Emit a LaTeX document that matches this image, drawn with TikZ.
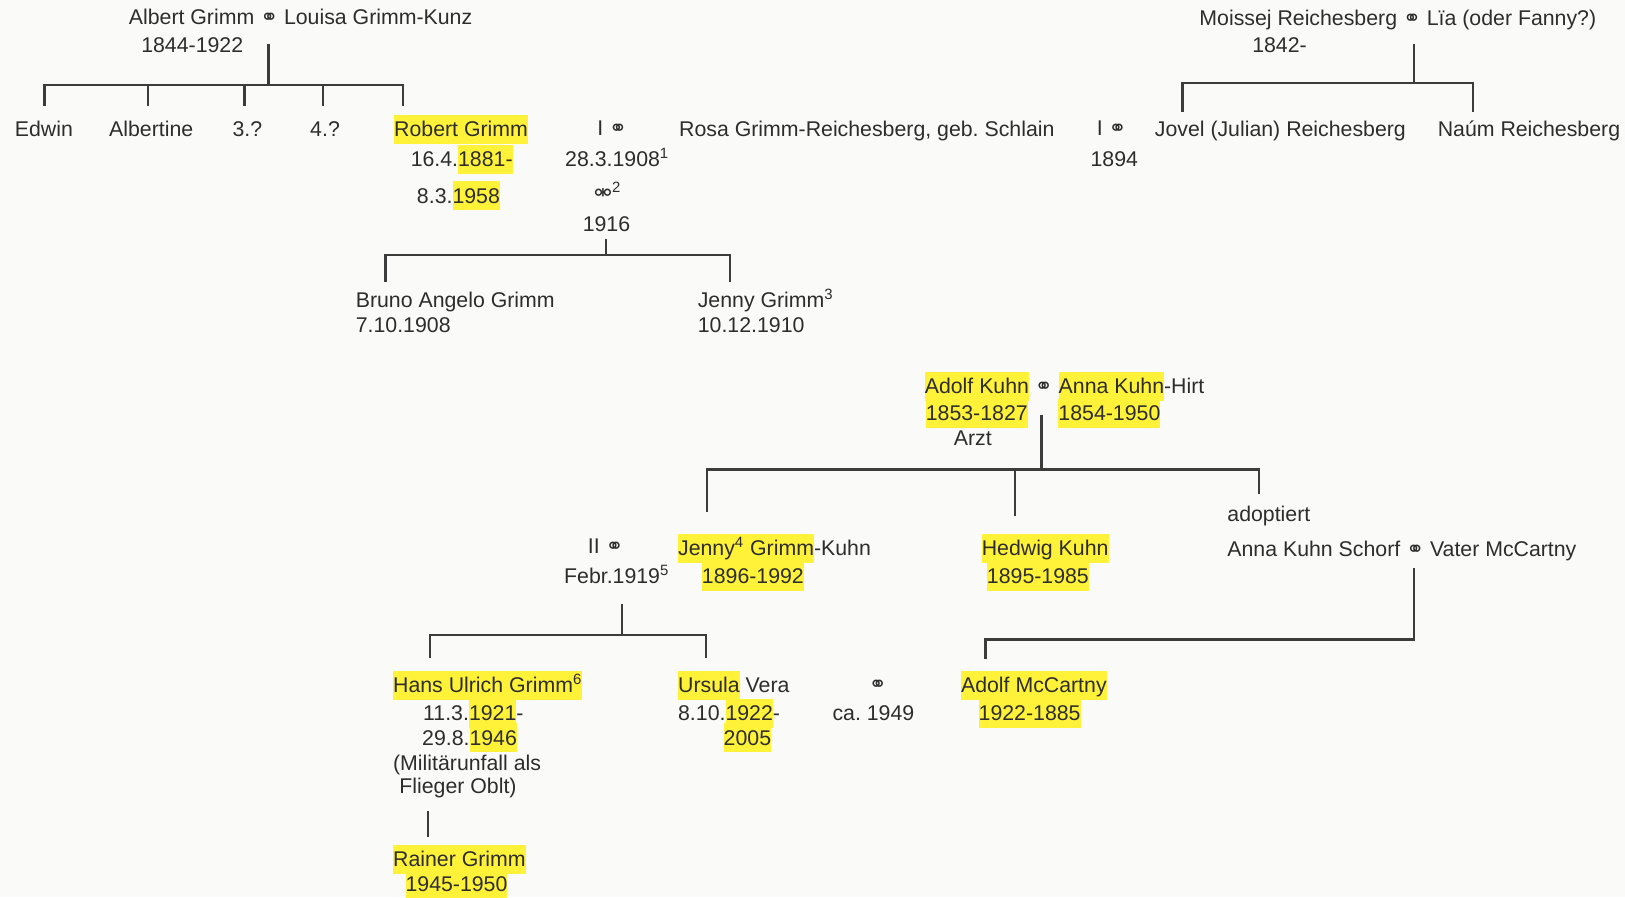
\documentclass[tikz,border=0pt]{standalone}
\usepackage{fontspec}
\usepackage{xcolor}
\setmainfont{Liberation Sans}
\newfontfamily\symfont{DejaVu Sans}
\definecolor{hlyellow}{RGB}{255,242,56}
\definecolor{inkgray}{RGB}{45,45,45}
\definecolor{linegray}{RGB}{60,60,60}
\definecolor{paper}{RGB}{250,250,249}
\newcommand{\hl}[1]{\begingroup\setlength{\fboxsep}{0pt}\colorbox{hlyellow}{\rule[-0.34em]{0pt}{1.36em}#1}\endgroup}
\newcommand{\mar}{{\symfont ⚭}}
\newcommand{\divo}{{\symfont ⚮}}
\frenchspacing

\begin{document}
\begin{tikzpicture}[x=0.02cm,y=-0.02cm]
        \tikzstyle{every node}+=[inner sep=0pt]
        \tikzset{person/.style={anchor=base west, text=inkgray, font=\fontsize{11.7}{14}\selectfont},
                 tree/.style={draw=linegray, line width=1.2pt}}
        \fill [paper] (0,0) rectangle (1568,866);
        \useasboundingbox (0,0) rectangle (1568,866);
        % Grimm parents
        \node [person] (albert) at (124,24) {Albert Grimm \mar{} Louisa Grimm-Kunz};
        \node [person] (albertyrs) at (136,51) {1844-1922};
        \node [person] (edwin) at (14,132) {Edwin};
        \node [person] (albertine) at (105,132) {Albertine};
        \node [person] (third) at (224,132) {3.?};
        \node [person] (fourth) at (299,132) {4.?};
        \node [person] (robert) at (380,132) {\hl{Robert Grimm}};
        \node [person] (robertborn) at (396,161) {16.4.\hl{1881-}};
        \node [person] (robertdied) at (402,196) {8.3.\hl{1958}};
        \coordinate (agstem) at (259,42);
        \coordinate (agfork) at (259,82);
        \coordinate (dedwin) at (43,102);
        \coordinate (dalbertine) at (143,102);
        \coordinate (dthird) at (236,102);
        \coordinate (dfourth) at (312,102);
        \coordinate (drobert) at (389,102);
        \draw [tree] (agstem) -- (agfork);
        \draw [tree] (agfork) -| (dedwin);
        \draw [tree] (agfork) -| (dalbertine);
        \draw [tree] (agfork) -| (dthird);
        \draw [tree] (agfork) -| (dfourth);
        \draw [tree] (agfork) -| (drobert);
        % first marriage
        \node [person] (marone) at (576,131) {I \mar};
        \node [person] (rosa) at (655,132) {Rosa Grimm-Reichesberg, geb. Schlain};
        \node [person] (maronedate) at (545,161) {28.3.1908\textsuperscript{1}};
        \node [person] (divone) at (573,193) {\divo\textsuperscript{2}};
        \node [person] (divonedate) at (562,223) {1916};
        \node [person] (bruno) at (343,297) {Bruno Angelo Grimm};
        \node [person] (brunoyrs) at (343,321) {7.10.1908};
        \node [person] (jennyg) at (673,297) {Jenny Grimm\textsuperscript{3}};
        \node [person] (jennygyrs) at (673,321) {10.12.1910};
        \coordinate (rrstem) at (585,231);
        \coordinate (rrfork) at (585,246);
        \coordinate (dbruno) at (372,272);
        \coordinate (djennyg) at (704,272);
        \draw [tree] (rrstem) -- (rrfork);
        \draw [tree] (rrfork) -| (dbruno);
        \draw [tree] (rrfork) -| (djennyg);
        % Reichesberg parents
        \node [person] (moissej) at (1157,25) {Moissej Reichesberg \mar{} Lïa (oder Fanny?)};
        \node [person] (moissejyrs) at (1208,51) {1842-};
        \node [person] (marjovel) at (1058,131) {I \mar};
        \node [person] (marjoveldate) at (1052,161) {1894};
        \node [person] (jovel) at (1114,132) {Jovel (Julian) Reichesberg};
        \node [person] (naum) at (1387,132) {Naúm Reichesberg};
        \coordinate (mrstem) at (1364,42);
        \coordinate (mrfork) at (1364,80);
        \coordinate (djovel) at (1141,108);
        \coordinate (dnaum) at (1421,108);
        \draw [tree] (mrstem) -- (mrfork);
        \draw [tree] (mrfork) -| (djovel);
        \draw [tree] (mrfork) -| (dnaum);
        % Kuhn parents
        \node [person] (adolf) at (892,380) {\hl{Adolf Kuhn} \mar{} \hl{Anna Kuhn}-Hirt};
        \node [person] (adolfyrs) at (893,406) {\hl{1853-1827}};
        \node [person] (annayrs) at (1021,406) {\hl{1854-1950}};
        \node [person] (arzt) at (920,430) {Arzt};
        \node [person] (adoptiert) at (1184,503) {adoptiert};
        \node [person] (schorf) at (1184,537) {Anna Kuhn Schorf \mar{} Vater McCartny};
        \node [person] (jennyk) at (654,536) {\hl{Jenny\textsuperscript{4} Grimm}-Kuhn};
        \node [person] (jennykyrs) at (677,563) {\hl{1896-1992}};
        \node [person] (hedwig) at (947,536) {\hl{Hedwig Kuhn}};
        \node [person] (hedwigyrs) at (952,563) {\hl{1895-1985}};
        \coordinate (akstem) at (1005,400);
        \coordinate (akfork) at (1005,453);
        \coordinate (djennyk) at (682,494);
        \coordinate (dhedwig) at (979,498);
        \coordinate (dadopt) at (1215,477);
        \draw [tree] (akstem) -- (akfork);
        \draw [tree] (akfork) -| (djennyk);
        \draw [tree] (akfork) -| (dhedwig);
        \draw [tree] (akfork) -| (dadopt);
        % second marriage
        \node [person] (martwo) at (567,534) {II \mar};
        \node [person] (martwodate) at (544,563) {Febr.1919\textsuperscript{5}};
        \node [person] (hans) at (379,668) {\hl{Hans Ulrich Grimm\textsuperscript{6}}};
        \node [person] (hansborn) at (408,695) {11.3.\hl{1921}-};
        \node [person] (hansdied) at (407,719) {29.8.\hl{1946}};
        \node [person] (hansnote) at (379,743) {(Militärunfall als};
        \node [person] (hansnotb) at (385,766) {Flieger Oblt)};
        \node [person] (rainer) at (379,836) {\hl{Rainer Grimm}};
        \node [person] (raineryrs) at (391,860) {\hl{1945-1950}};
        \node [person] (ursula) at (654,668) {\hl{Ursula} Vera};
        \node [person] (ursulaborn) at (654,695) {8.10.\hl{1922}-};
        \node [person] (ursuladied) at (698,719) {\hl{2005}};
        \node [person] (marursula) at (838,667) {\mar};
        \node [person] (marursuladate) at (803,695) {ca. 1949};
        \node [person] (mccartny) at (927,668) {\hl{Adolf McCartny}};
        \node [person] (mccartnyyrs) at (944,695) {\hl{1922-1885}};
        \coordinate (rjstem) at (600,583);
        \coordinate (rjfork) at (600,613);
        \coordinate (dhans) at (415,635);
        \coordinate (dursula) at (681,635);
        \draw [tree] (rjstem) -- (rjfork);
        \draw [tree] (rjfork) -| (dhans);
        \draw [tree] (rjfork) -| (dursula);
        \coordinate (hrtop) at (413,783);
        \coordinate (hrbot) at (413,808);
        \draw [tree] (hrtop) -- (hrbot);
        \coordinate (vmstem) at (1364,548);
        \coordinate (vmfork) at (1364,617);
        \coordinate (dmccartny) at (951,636);
        \draw [tree] (vmstem) -- (vmfork) -| (dmccartny);
\end{tikzpicture}
\end{document}
